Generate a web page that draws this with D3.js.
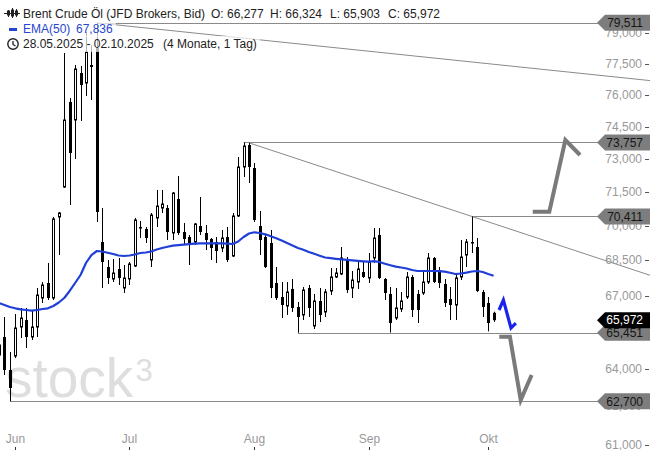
<!DOCTYPE html>
<html><head><meta charset="utf-8">
<script src="https://cdn.jsdelivr.net/npm/d3@7"></script>
<style>body{margin:0;background:#fff;}svg{display:block;font-family:"Liberation Sans",Arial,sans-serif;}</style>
</head><body>
<script>
// ---------- DATA ----------
const firstDay = "2025-05-28", lastDay = "2025-10-02";
const openV  = [64545,65279,63941,64505,65690,65979,65279,65690,66897,67530,66897,70387,71725,75657,74806,77046,76564,77434,78264,69290,68211,67700,68126,67319,67700,68254,69946,69858,68512,70342,70785,70785,69683,71187,69727,69508,69290,69990,69683,69420,69290,69030,69508,68684,70431,72631,73641,72585,69990,69508,69247,67530,66939,66562,67277,66520,66187,67319,65731,66771,66312,67192,67785,67913,68555,67319,67572,67998,67742,68598,69595,67700,67066,66062,66437,66939,67785,67066,67108,67572,68598,68083,67488,66855,66604,67785,68726,69290,69073,67150,66688,66277];
const highV  = [65566,66104,64667,66229,66479,66479,66395,67319,67572,68383,70387,70608,78019,75846,77434,77385,79055,78412,79511,70785,68512,68555,68598,68297,68426,70342,70210,69946,70564,71590,71590,70919,71500,72222,70122,69595,70122,71276,70034,69464,69508,69814,69946,70564,73089,73757,73740,72814,70652,69595,69814,68211,67572,67572,67700,66729,67361,67446,67066,67319,67277,68168,68168,69073,68641,68040,68469,68426,68814,69902,69902,67742,67361,67319,67150,67998,67870,67234,67998,68814,68641,68211,67700,67361,67955,69377,69420,70411,69464,67234,66939,66324];
const lowV   = [64263,63741,62700,64424,65238,64830,65156,65279,66688,66813,66813,68726,71680,70919,72997,74759,75942,75751,70166,67319,67488,67572,67446,67108,67446,68211,69464,69247,68211,69946,70564,69377,69377,69595,69160,68297,69160,69595,68943,68512,68383,68857,68426,68641,70387,72176,71905,70166,68726,68168,66897,66813,66062,66187,66312,65451,65979,66104,65607,65896,66104,67024,67742,67870,67108,66897,67277,67742,67530,68383,67700,66813,65460,65979,66312,66855,66104,65855,67024,67488,67530,67319,66520,65979,65979,67657,68211,68814,67150,66104,65510,65903];
const closeV = [64952,63941,63223,65649,66062,65279,65690,67024,67446,66897,70298,70564,74806,73272,77240,76468,78068,77337,70608,68426,67742,67955,67742,67742,68340,70254,69902,69464,70475,70874,70964,69727,71455,69683,69420,69247,70078,69727,69377,69030,68900,69464,68512,70431,72631,73595,72631,70254,69377,68211,67319,66897,66604,67150,66479,66104,67234,66479,66771,66187,67150,67785,67955,68598,67234,67657,68126,67785,68426,69464,67742,67108,65855,66479,66771,67785,66395,66395,67572,68598,67572,67530,66688,66604,67742,68641,69290,69247,67192,66520,65855,65972];
const ema50  = [66688,66604,66520,66466,66424,66395,66366,66395,66437,66466,66562,66708,66897,67192,67530,67870,68383,68726,68900,68878,68826,68770,68705,68684,68705,68748,68814,68835,68878,68965,69030,69086,69130,69151,69173,69195,69217,69234,69234,69234,69234,69234,69217,69203,69312,69508,69661,69714,69683,69626,69543,69456,69355,69247,69138,69030,68952,68857,68779,68697,68619,68589,68564,68542,68521,68499,68478,68457,68439,68461,68426,68349,68285,68225,68190,68147,68083,68040,68040,68040,68040,68032,68015,67964,67913,67934,67972,68019,68040,67998,67913,67836];
const yTickValues = [61000,62500,64000,65500,67000,68500,70000,71500,73000,74500,76000,77500,79000];
const monthTickDates = ["2025-06-02","2025-07-01","2025-08-01","2025-09-01","2025-10-01"];
const monthTickLabels = ["Jun","Jul","Aug","Sep","Okt"];
const levelValues = [79511,73757,70411,65451,62700];
const levelFrom = ["2025-06-23","2025-07-30","2025-09-26","2025-08-13","2025-05-30"];
const lastPrice = 65972;
// trend lines: [date, value] anchor pairs, extended to the right edge
const trendA = [["2025-06-23",79511],["2025-10-02",77470]];
const trendB = [["2025-07-31",73740],["2025-09-26",70411]];
// scenario sketches: [bar index (after last bar), value]
const scenarioUp   = [[98.2,70621],[101.25,70621],[104.2,73872],[106.9,73180]];
const scenarioDown = [[92.05,65291],[94.0,65291],[95.99,62748],[98.0,63741]];
const scenarioNow  = [[92.0,66395],[92.8,66813],[94.2,65649],[95.1,65855]];
const headerTitle = "Brent Crude Öl (JFD Brokers, Bid)";
const headerOHLC = ["O: 66,277","H: 66,324","L: 65,903","C: 65,972"];
const headerEMA = ["EMA(50)","67,836"];
const headerRange = ["28.05.2025 - 02.10.2025","(4 Monate, 1 Tag)"];

// ---------- SCALES ----------
const W = 650, H = 450;
const parse = d3.utcParse("%Y-%m-%d"), fmt = d3.utcFormat("%Y-%m-%d");
const days = d3.utcDay.range(parse(firstDay), d3.utcDay.offset(parse(lastDay), 1))
  .filter(d => d.getUTCDay() !== 0 && d.getUTCDay() !== 6).map(fmt);
const x = d3.scalePoint().domain(days).range([-1.0, 493.6]);
const xi = i => x(days[0]) + i * x.step();
const y = d3.scaleLog().domain([61000, 79000]).range([445, 33.1]);
const bars = days.map((d, i) => ({d, i, o: openV[i], h: highV[i], l: lowV[i], c: closeV[i], e: ema50[i]}));

const svg = d3.select("body").append("svg").attr("width", W).attr("height", H);
svg.append("rect").attr("width", W).attr("height", H).attr("fill", "#fff");

// watermark
const wm = svg.append("text").attr("x", 5).attr("y", 397).attr("fill", "#dedede")
  .style("font-size", "55px");
wm.append("tspan").text("stock");
wm.append("tspan").attr("dx", 2).attr("dy", -16).style("font-size", "31px").text("3");

// level lines
const lvl = svg.append("g");
levelValues.forEach((v, k) => {
  lvl.append("line").attr("x1", x(levelFrom[k])).attr("x2", 598)
    .attr("y1", Math.round(y(v)) + 0.5).attr("y2", Math.round(y(v)) + 0.5)
    .attr("stroke", "#8a8a8a").attr("stroke-width", 1);
});
// trend lines extended to right edge
function trend(a) {
  const x1 = x(a[0][0]), y1 = y(a[0][1]), x2 = x(a[1][0]), y2 = y(a[1][1]);
  const s = (y2 - y1) / (x2 - x1);
  svg.append("line").attr("x1", x1).attr("y1", y1).attr("x2", W).attr("y2", y1 + s * (W - x1))
    .attr("stroke", "#8a8a8a").attr("stroke-width", 1);
}
trend(trendA); trend(trendB);

// candles
const cg = svg.append("g");
bars.forEach(b => {
  const cx = Math.round(x(b.d));
  cg.append("line").attr("x1", cx + 0.5).attr("x2", cx + 0.5).attr("y1", y(b.h)).attr("y2", y(b.l))
    .attr("stroke", "#000").attr("stroke-width", 1);
  const top = y(Math.max(b.o, b.c)), bot = y(Math.min(b.o, b.c));
  if (b.c >= b.o) {
    cg.append("rect").attr("x", cx - 0.5).attr("width", 2).attr("y", top).attr("height", Math.max(1, bot - top))
      .attr("fill", "#fff").attr("stroke", "#000").attr("stroke-width", 1);
  } else {
    cg.append("rect").attr("x", cx - 1).attr("width", 3).attr("y", top).attr("height", Math.max(1.5, bot - top))
      .attr("fill", "#000");
  }
});

// EMA
svg.append("path").datum(bars).attr("fill", "none").attr("stroke", "#1f3fd8").attr("stroke-width", 2.2)
  .attr("stroke-linejoin", "round")
  .attr("d", d3.line().x(b => x(b.d)).y(b => y(b.e)));

// scenario sketches
const sl = d3.line().x(p => xi(p[0])).y(p => y(p[1]));
svg.append("path").datum(scenarioUp).attr("d", sl).attr("fill", "none").attr("stroke", "#7a7a7a").attr("stroke-width", 4);
svg.append("path").datum(scenarioDown).attr("d", sl).attr("fill", "none").attr("stroke", "#7a7a7a").attr("stroke-width", 4);
svg.append("path").datum(scenarioNow).attr("d", sl).attr("fill", "none").attr("stroke", "#1a22ee").attr("stroke-width", 3.2);

// y axis (right)
const ya = svg.append("g").style("font-size", "12px");
yTickValues.forEach(v => {
  const yy = y(v);
  ya.append("text").attr("x", 642).attr("y", yy + 4).attr("text-anchor", "end").attr("fill", "#999").text(d3.format(",")(v));
  ya.append("line").attr("x1", 645).attr("x2", 649).attr("y1", Math.round(yy) + 0.5).attr("y2", Math.round(yy) + 0.5).attr("stroke", "#555");
});
// level labels
function tag(v, fill, color) {
  const cy = y(v);
  svg.append("path").attr("d", `M597,${cy} L605,${cy - 8} L651,${cy - 8} L651,${cy + 8} L605,${cy + 8} Z`).attr("fill", fill);
  svg.append("text").attr("x", 643).attr("y", cy + 4.3).attr("text-anchor", "end").attr("fill", color)
    .style("font-size", "12px").text(d3.format(",")(v));
}
levelValues.forEach(v => tag(v, "#7d7d7d", "#151515"));
tag(lastPrice, "#000", "#fff");

// x axis
const xa = svg.append("g").style("font-size", "12px");
monthTickDates.forEach((d, k) => {
  const xx = Math.round(x(d)) + 0.5;
  xa.append("text").attr("x", xx).attr("y", 443).attr("text-anchor", "middle").attr("fill", "#999").text(monthTickLabels[k]);
  xa.append("line").attr("x1", xx).attr("x2", xx).attr("y1", 447).attr("y2", 450).attr("stroke", "#333");
});

// header
const hd = svg.append("g").style("font-size", "12px");
const bgs = hd.append("g");
function hline(yb, parts) {
  const g = hd.append("g");
  parts.forEach(p => g.append("text").attr("x", p[0]).attr("y", yb).attr("fill", p[2]).text(p[1]));
  const bb = g.node().getBBox();
  bgs.append("rect").attr("x", 0).attr("y", bb.y - 1).attr("width", bb.x + bb.width + 3).attr("height", bb.height + 2)
    .attr("fill", "#fff").attr("opacity", 0.7);
}
hline(18, [[23, headerTitle, "#222"], [211, headerOHLC[0], "#222"], [270, headerOHLC[1], "#222"], [330, headerOHLC[2], "#222"], [388, headerOHLC[3], "#222"]]);
hline(33, [[23, headerEMA[0], "#2546d0"], [76, headerEMA[1], "#2546d0"]]);
hline(48, [[23, headerRange[0], "#222"], [163, headerRange[1], "#222"]]);
// icons
const ic = hd.append("g").attr("stroke", "#222").attr("fill", "none").attr("stroke-width", 1);
[[8,10,17,11,15],[12,8,18,10,16],[16,9,17,11,15]].forEach(c => {
  ic.append("line").attr("x1", c[0] + 0.5).attr("x2", c[0] + 0.5).attr("y1", c[1]).attr("y2", c[2]);
  ic.append("rect").attr("x", c[0] - 0.5).attr("y", c[3]).attr("width", 2).attr("height", c[4] - c[3]);
});
ic.append("line").attr("x1", 4).attr("x2", 20).attr("y1", 13.5).attr("y2", 13.5);
hd.append("rect").attr("x", 9).attr("y", 28).attr("width", 8).attr("height", 3).attr("fill", "#2546d0");
hd.append("circle").attr("cx", 13).attr("cy", 44).attr("r", 5.2).attr("fill", "none").attr("stroke", "#222").attr("stroke-width", 1.4);
hd.append("path").attr("d", "M13,41 L13,44.5 L15.5,46").attr("fill", "none").attr("stroke", "#222").attr("stroke-width", 1.3);
</script>
</body></html>
